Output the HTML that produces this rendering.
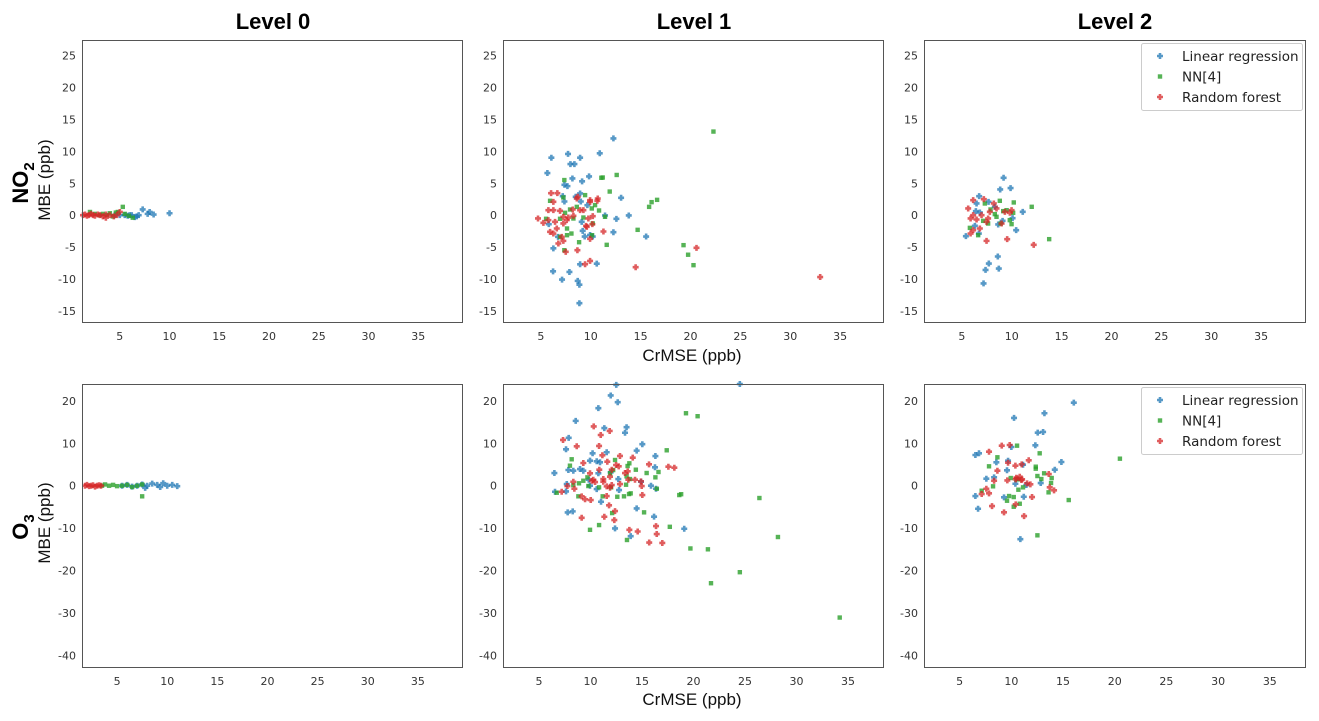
<!DOCTYPE html>
<html><head><meta charset="utf-8">
<style>
html,body{margin:0;padding:0;background:#fff;}
svg{display:block;font-family:"DejaVu Sans","Liberation Sans",sans-serif;}
.tick{font-size:11px;fill:#333;}
.ttl{font-family:"Liberation Sans",sans-serif;font-weight:bold;font-size:22px;fill:#000;}
.lab{font-family:"Liberation Sans",sans-serif;font-size:17px;fill:#111;}
</style></head>
<body>
<svg id="fig" width="1319" height="721" viewBox="0 0 1319 721">
<text class="ttl" x="273" y="29" text-anchor="middle">Level 0</text>
<text class="ttl" x="694" y="29" text-anchor="middle">Level 1</text>
<text class="ttl" x="1115" y="29" text-anchor="middle">Level 2</text>
<text class="ttl" transform="translate(28,183) rotate(-90)" text-anchor="middle">NO<tspan font-size="15" dy="6">2</tspan></text>
<text class="lab" transform="translate(50,180) rotate(-90)" text-anchor="middle">MBE (ppb)</text>
<text class="ttl" transform="translate(28,527) rotate(-90)" text-anchor="middle">O<tspan font-size="15" dy="6">3</tspan></text>
<text class="lab" transform="translate(50,523) rotate(-90)" text-anchor="middle">MBE (ppb)</text>
<text class="lab" x="692" y="361" text-anchor="middle">CrMSE (ppb)</text>
<text class="lab" x="692" y="705" text-anchor="middle">CrMSE (ppb)</text>
</svg>
<script>
// ===== data =====
const xTicks=[5,10,15,20,25,30,35];
const yTicksNO2=[25,20,15,10,5,0,-5,-10,-15];
const yTicksO3=[20,10,0,-10,-20,-30,-40];
const seriesNames=["Linear regression","NN[4]","Random forest"];

// Level 0 NO2
const l0no2BlueX=[4.5,5,5.5,6,6.2,6.5,6.9,7.3,7.8,8,8.4,10,5.8,6.7];
const l0no2BlueY=[0,0,0,0,0,-0.3,0,0.9,0.2,0.5,0.1,0.3,-0.1,-0.2];
const l0no2GreenX=[2,2.5,3,3.3,3.7,4,4.3,4.6,4.8,5.3,5.5,5.9,6.3];
const l0no2GreenY=[0.5,0.2,0,0.2,0,0.3,-0.2,0.4,0.5,1.3,0.2,-0.1,-0.4];
const l0no2RedX=[1.3,1.5,1.7,1.9,2.1,2.3,2.5,2.8,3,3.3,3.6,4,4.4,4.7,5,3.6];
const l0no2RedY=[0,0.1,-0.1,0,0.2,0,-0.1,0.1,0,-0.2,0.1,0,-0.2,0,0.5,-0.4];
// Level 1 NO2
const l1no2BlueX=[12.27,6.05,7.72,8.93,10.9,7.96,8.36,5.65,8.16,9.13,9.83,7.36,7.66,8.93,7.19,8.49,7.36,9.0,9.66,13.04,11.43,12.57,13.81,5.79,9.09,9.19,12.27,15.55,9.39,10.2,6.72,6.25,8.93,10.6,6.22,7.86,7.12,8.69,8.86,8.86,9.93];
const l1no2BlueY=[12.03,9.0,9.6,9.0,9.7,8.0,8.0,6.6,5.75,5.3,6.07,4.76,4.55,3.4,2.98,2.88,2.14,2.14,1.57,2.72,-0.05,-0.58,-0.05,-1.41,-1.05,-2.46,-2.67,-3.35,-3.35,-3.35,-3.4,-5.2,-7.7,-7.6,-8.8,-8.9,-10.1,-10.3,-10.9,-13.8,-3.1];
const l1no2GreenX=[22.3,11.06,11.2,12.6,11.9,16.65,16.1,15.85,14.7,11.6,19.3,19.76,20.3,7.35,7.25,9.43,5.92,8.6,10.83,10.1,10.43,7.92,7.42,5.52,6.92,9.26,8.26,11.43,7.62,8.06,10.13,8.83,7.35,6.92,7.62,10.2];
const l1no2GreenY=[13.1,5.86,5.9,6.3,3.7,2.4,2.04,1.3,-2.3,-4.65,-4.7,-6.2,-7.84,5.5,2.77,3.14,2.25,1.3,0.73,1.05,1.57,0.89,0.37,-0.57,-0.57,-0.37,-0.52,-0.26,-2.09,-2.88,-3.14,-4.24,-5.49,-3.4,-3.14,-1.3];
const l1no2RedX=[20.6,14.5,4.71,6.02,6.65,6.25,5.75,6.25,6.92,8.93,9.26,9.93,9.93,10.7,10.66,8.69,8.6,7.25,7.75,8.26,10.2,9.76,10.16,9.53,9.6,5.25,5.75,6.42,6.59,5.92,6.25,7.25,11.27,9.93,7.09,7.25,6.75,7.49,8.66,9.43,9.93,8.19,7.59,33.0];
const l1no2RedY=[-5.12,-8.16,-0.52,3.45,3.45,2.09,0.78,0.78,0.68,0.78,0.78,2.35,2.09,2.61,2.25,2.88,2.61,-0.26,-0.37,-0.1,-0.16,-0.52,-1.41,-1.67,-1.83,-1.2,-0.78,-1.05,-2.09,-2.61,-2.88,-1.3,-2.56,-3.71,-3.4,-4.03,-4.44,-5.75,-5.49,-7.69,-7.17,0.89,-0.78,-9.7];
// Level 2 NO2
const l2no2BlueX=[9.18,8.84,9.88,6.73,6.47,7.67,8.3,6.4,6.8,11.1,9.08,10.08,10.44,8.64,6.7,5.4,6.3,8.6,7.7,7.37,8.7,7.17];
const l2no2BlueY=[5.86,4.03,4.24,2.98,1.83,2.09,1.31,0.63,0.42,0.52,-0.89,-0.47,-2.35,-1.46,-2.88,-3.29,-1.67,-6.48,-7.58,-8.58,-8.37,-10.7];
const l2no2GreenX=[10.2,8.8,12.0,7.3,7.87,9.14,8.3,10.14,9.8,9.98,8.88,7.63,7.13,5.8,6.63,13.75,8.47,9.48];
const l2no2GreenY=[1.99,2.25,1.31,1.83,0.89,0.63,0.16,0.37,-0.78,-1.41,-1.31,-1.31,-0.89,-1.99,-3.14,-3.76,-0.26,0.78];
const l2no2RedX=[6.13,7.2,8.2,5.63,7.8,9.31,9.81,9.98,6.13,6.47,5.87,6.97,7.63,7.47,8.98,6.8,6.13,5.87,7.47,9.54,12.2,8.47];
const l2no2RedY=[2.35,2.51,1.83,1.05,0.52,0.52,0.37,0.78,0,-0.68,-0.52,0,-0.52,-1.05,-1.31,-2.09,-2.35,-2.88,-4.03,-3.76,-4.65,1.05];
// Level 0 O3
const l0o3BlueX=[5.5,6,6.5,7,7.5,8,8.5,9,9.3,9.6,10,10.5,11,7.8];
const l0o3BlueY=[0,0.2,-0.2,0,0.3,0,0.5,0.2,-0.3,0.6,0,0.2,-0.1,-0.5];
const l0o3GreenX=[3.5,3.8,4.2,4.6,5,5.5,6,6.5,7,7.5,7.5];
const l0o3GreenY=[0,0.3,0,0.2,-0.1,0,0.2,-0.3,0,-2.5,0.3];
const l0o3RedX=[1.8,2,2.2,2.4,2.6,2.8,3,3.2,3.4];
const l0o3RedY=[0,0.2,-0.1,0,0.1,-0.2,0,0.1,0];
// Level 1 O3
const l1o3BlueX=[12.5,11.96,12.64,10.76,8.56,11.34,13.5,13.35,7.88,7.62,10.2,11.57,15.03,14.48,16.3,16.26,10.6,10.92,9.95,8.98,8.33,6.49,7.85,9.3,10.76,7.69,9.95,10.6,12.7,14.9,15.87,16.36,6.55,7.62,11.02,12.77,14.48,16.17,7.78,8.27,12.38,13.9,19.1,9.83,11.96,24.5];
const l1o3BlueY=[23.8,21.3,19.7,18.3,15.3,13.6,13.8,12.5,11.3,8.6,7.65,7.9,9.8,8.28,7.0,4.35,5.77,5.53,5.92,3.94,3.54,3.0,3.71,3.54,2.93,0.4,0,-0.79,1.58,0.95,0,-0.71,-1.42,-1.34,-3.78,-1.02,-5.35,-7.3,-6.3,-6.05,-10.07,-11.9,-10.15,1.42,3.16,24];
const l1o3GreenX=[19.27,20.4,17.4,8.17,8.0,12.38,13.77,13.6,14.4,15.45,16.6,16.3,9.7,11.9,13.5,13.83,13.45,12.0,10.83,9.79,8.88,6.72,8.82,11.18,12.6,13.25,13.74,13.9,16.43,18.62,15.2,12.1,9.95,10.83,17.7,13.54,19.7,21.4,8.33,12.2,9.3,18.8,26.4,28.2,21.7,24.5,34.2];
const l1o3GreenY=[17.1,16.4,8.36,6.24,4.73,6.07,5.29,4.65,3.78,3.0,3.24,1.98,1.98,2.93,2.22,1.58,0.24,-0.38,-0.38,-0.07,0.57,-1.65,-2.5,-2.5,-2.6,-2.5,-1.96,-1.8,-0.71,-2.2,-6.28,-6.45,-10.4,-9.28,-9.69,-12.8,-14.8,-15.0,0.16,3.7,1.18,-2,-2.9,-12.1,-23,-20.4,-31.1];
const l1o3RedX=[10.31,10.99,11.86,7.33,8.66,10.83,11.15,12.86,14.1,15.68,17.56,18.14,9.3,11.63,12.48,12.74,12.06,13.61,13.35,10.85,9.95,11.89,11.24,10.27,10.12,8.33,11.24,12.86,13.67,14.32,14.9,7.75,8.43,11.57,12.06,11.89,14.97,7.2,9.14,9.47,10.02,11.57,15.03,11.8,12.38,11.34,9.14,12.31,13.77,14.58,16.36,16.43,15.7,16.97,10.44];
const l1o3RedY=[14.0,11.97,12.92,10.8,9.3,9.38,7.18,7.02,6.62,5.05,4.49,4.25,5.36,5.67,4.89,4.58,3.78,3.4,3.0,3.78,2.93,2.13,1.58,1.42,1.18,0.94,0.94,0.4,1.42,1.42,1.04,-0.07,-0.71,-0.15,0.16,-0.47,-0.07,-1.42,-2.5,-3.2,-3.38,-2.43,-2.2,-4.63,-5.98,-7.32,-7.56,-8.1,-10.4,-10.8,-9.52,-11.4,-13.4,-13.5,0.87];
// Level 2 O3
const l2o3BlueX=[16.04,13.2,10.26,12.55,13.07,12.32,10.0,6.52,6.87,8.55,9.68,11.13,9.58,14.84,14.2,7.58,8.33,10.39,11.45,12.84,6.52,9.29,11.2,6.78,10.87];
const l2o3BlueY=[19.6,17.1,16.0,12.52,12.68,9.54,9.14,7.25,7.65,5.53,5.9,4.96,3.64,5.6,3.78,1.65,1.98,0.47,0.16,0.64,-2.43,-2.74,-2.6,-5.43,-12.6];
const l2o3GreenX=[20.5,10.55,12.74,8.65,7.84,12.36,12.36,13.17,12.52,12.9,13.9,13.84,13.6,9.94,10.48,10.7,8.23,7.13,10.68,11.13,9.78,10.23,9.58,10.81,10.23,15.55,12.52];
const l2o3GreenY=[6.38,9.45,7.65,6.71,4.58,4.49,4.02,2.93,2.29,1.58,1.82,0.64,-1.56,1.82,1.51,1.51,-0.14,-1.18,-0.94,-0.38,-2.43,-2.67,-3.54,-4.25,-4.96,-3.38,-11.7];
const l2o3RedX=[9.07,9.84,9.68,7.84,11.68,11.0,10.39,8.65,8.33,9.61,10.42,11.04,10.81,10.48,11.52,11.84,7.58,7.13,7.84,13.71,14.13,13.62,12.0,8.13,10.42,9.29,11.23,10.97];
const l2o3RedY=[9.45,9.61,5.43,8.03,6.0,5.05,4.73,3.54,1.18,1.26,1.51,1.51,2.13,1.89,0.57,0.33,-0.71,-1.96,-1.8,-0.38,-1.09,2.76,-2.67,-4.8,-4.39,-6.28,-7.16,1.35];

// ===== axes =====
const NS="http://www.w3.org/2000/svg";
const svg=document.getElementById('fig');
const panels=[
 {id:'no2-level-0',l:82,t:40,r:463,b:323,xmin:1.2,xmax:39.5,ymin:-16.9,ymax:27.45,yt:yTicksNO2,
  s:[[l0no2BlueX,l0no2BlueY],[l0no2GreenX,l0no2GreenY],[l0no2RedX,l0no2RedY]]},
 {id:'no2-level-1',l:503,t:40,r:884,b:323,xmin:1.2,xmax:39.4,ymin:-16.9,ymax:27.45,yt:yTicksNO2,
  s:[[l1no2BlueX,l1no2BlueY],[l1no2GreenX,l1no2GreenY],[l1no2RedX,l1no2RedY]]},
 {id:'no2-level-2',l:924,t:40,r:1306,b:323,xmin:1.2,xmax:39.5,ymin:-16.9,ymax:27.45,yt:yTicksNO2,legend:true,
  s:[[l2no2BlueX,l2no2BlueY],[l2no2GreenX,l2no2GreenY],[l2no2RedX,l2no2RedY]]},
 {id:'o3-level-0',l:82,t:384,r:463,b:668,xmin:1.5,xmax:39.5,ymin:-43,ymax:24,yt:yTicksO3,
  s:[[l0o3BlueX,l0o3BlueY],[l0o3GreenX,l0o3GreenY],[l0o3RedX,l0o3RedY]]},
 {id:'o3-level-1',l:503,t:384,r:884,b:668,xmin:1.5,xmax:38.5,ymin:-43,ymax:24,yt:yTicksO3,
  s:[[l1o3BlueX,l1o3BlueY],[l1o3GreenX,l1o3GreenY],[l1o3RedX,l1o3RedY]]},
 {id:'o3-level-2',l:924,t:384,r:1306,b:668,xmin:1.55,xmax:38.5,ymin:-43,ymax:24,yt:yTicksO3,legend:true,
  s:[[l2o3BlueX,l2o3BlueY],[l2o3GreenX,l2o3GreenY],[l2o3RedX,l2o3RedY]]}
];
const colors=['#1f77b4','#2ca02c','#d62728'];
const snames=['linear-regression','nn4','random-forest'];
function mk(tag,attrs,parent){const e=document.createElementNS(NS,tag);for(const k in attrs)e.setAttribute(k,attrs[k]);(parent||svg).appendChild(e);return e;}
function marker(k,cx,cy,parent){
  if(k===1){return mk('rect',{x:cx-2.2,y:cy-2.2,width:4.4,height:4.4,fill:colors[k],'fill-opacity':0.8},parent);}
  const a=1.3,b=3;
  const d=`M${cx-a},${cy-b}H${cx+a}V${cy-a}H${cx+b}V${cy+a}H${cx+a}V${cy+b}H${cx-a}V${cy+a}H${cx-b}V${cy-a}H${cx-a}Z`;
  return mk('path',{d:d,fill:colors[k],'fill-opacity':0.75},parent);
}
panels.forEach(p=>{
  const g=mk('g',{});
  
  
  const sx=v=>p.l+(v-p.xmin)/(p.xmax-p.xmin)*(p.r-p.l);
  const sy=v=>p.b-(v-p.ymin)/(p.ymax-p.ymin)*(p.b-p.t);
  xTicks.forEach(v=>{const t=mk('text',{x:sx(v),y:p.b+17,'text-anchor':'middle',class:'tick'},g);t.textContent=v;
    });
  p.yt.forEach(v=>{const t=mk('text',{x:p.l-6,y:sy(v)+4,'text-anchor':'end',class:'tick'},g);t.textContent=v;
    });
  const pg=mk('g',{},g);
  
  
  p.s.forEach((ser,k)=>{
    const [xs,ys]=ser;
    xs.forEach((x,i)=>{const m=marker(k,sx(x),sy(ys[i]),pg);
      
      });
  });
  const fr=mk('rect',{x:p.l+0.5,y:p.t+0.5,width:p.r-p.l-1,height:p.b-p.t-1,fill:'none',stroke:'#555','stroke-width':1},g);
  
  
  if(p.legend){
    const lg=mk('g',{},g);
    
    
    mk('rect',{x:1141.5,y:p.t+3.5,width:161,height:67,rx:2,fill:'#fff',stroke:'#ccc'},lg);
    seriesNames.forEach((n,k)=>{
      const yy=p.t+16+k*20.5;
      const e=mk('g',{},lg);
      
      
      marker(k,1160,yy,e);
      const t=mk('text',{x:1182,y:yy+5,'font-size':13.5,fill:'#222'},e);t.textContent=n;
    });
  }
});
</script>
</body></html>
